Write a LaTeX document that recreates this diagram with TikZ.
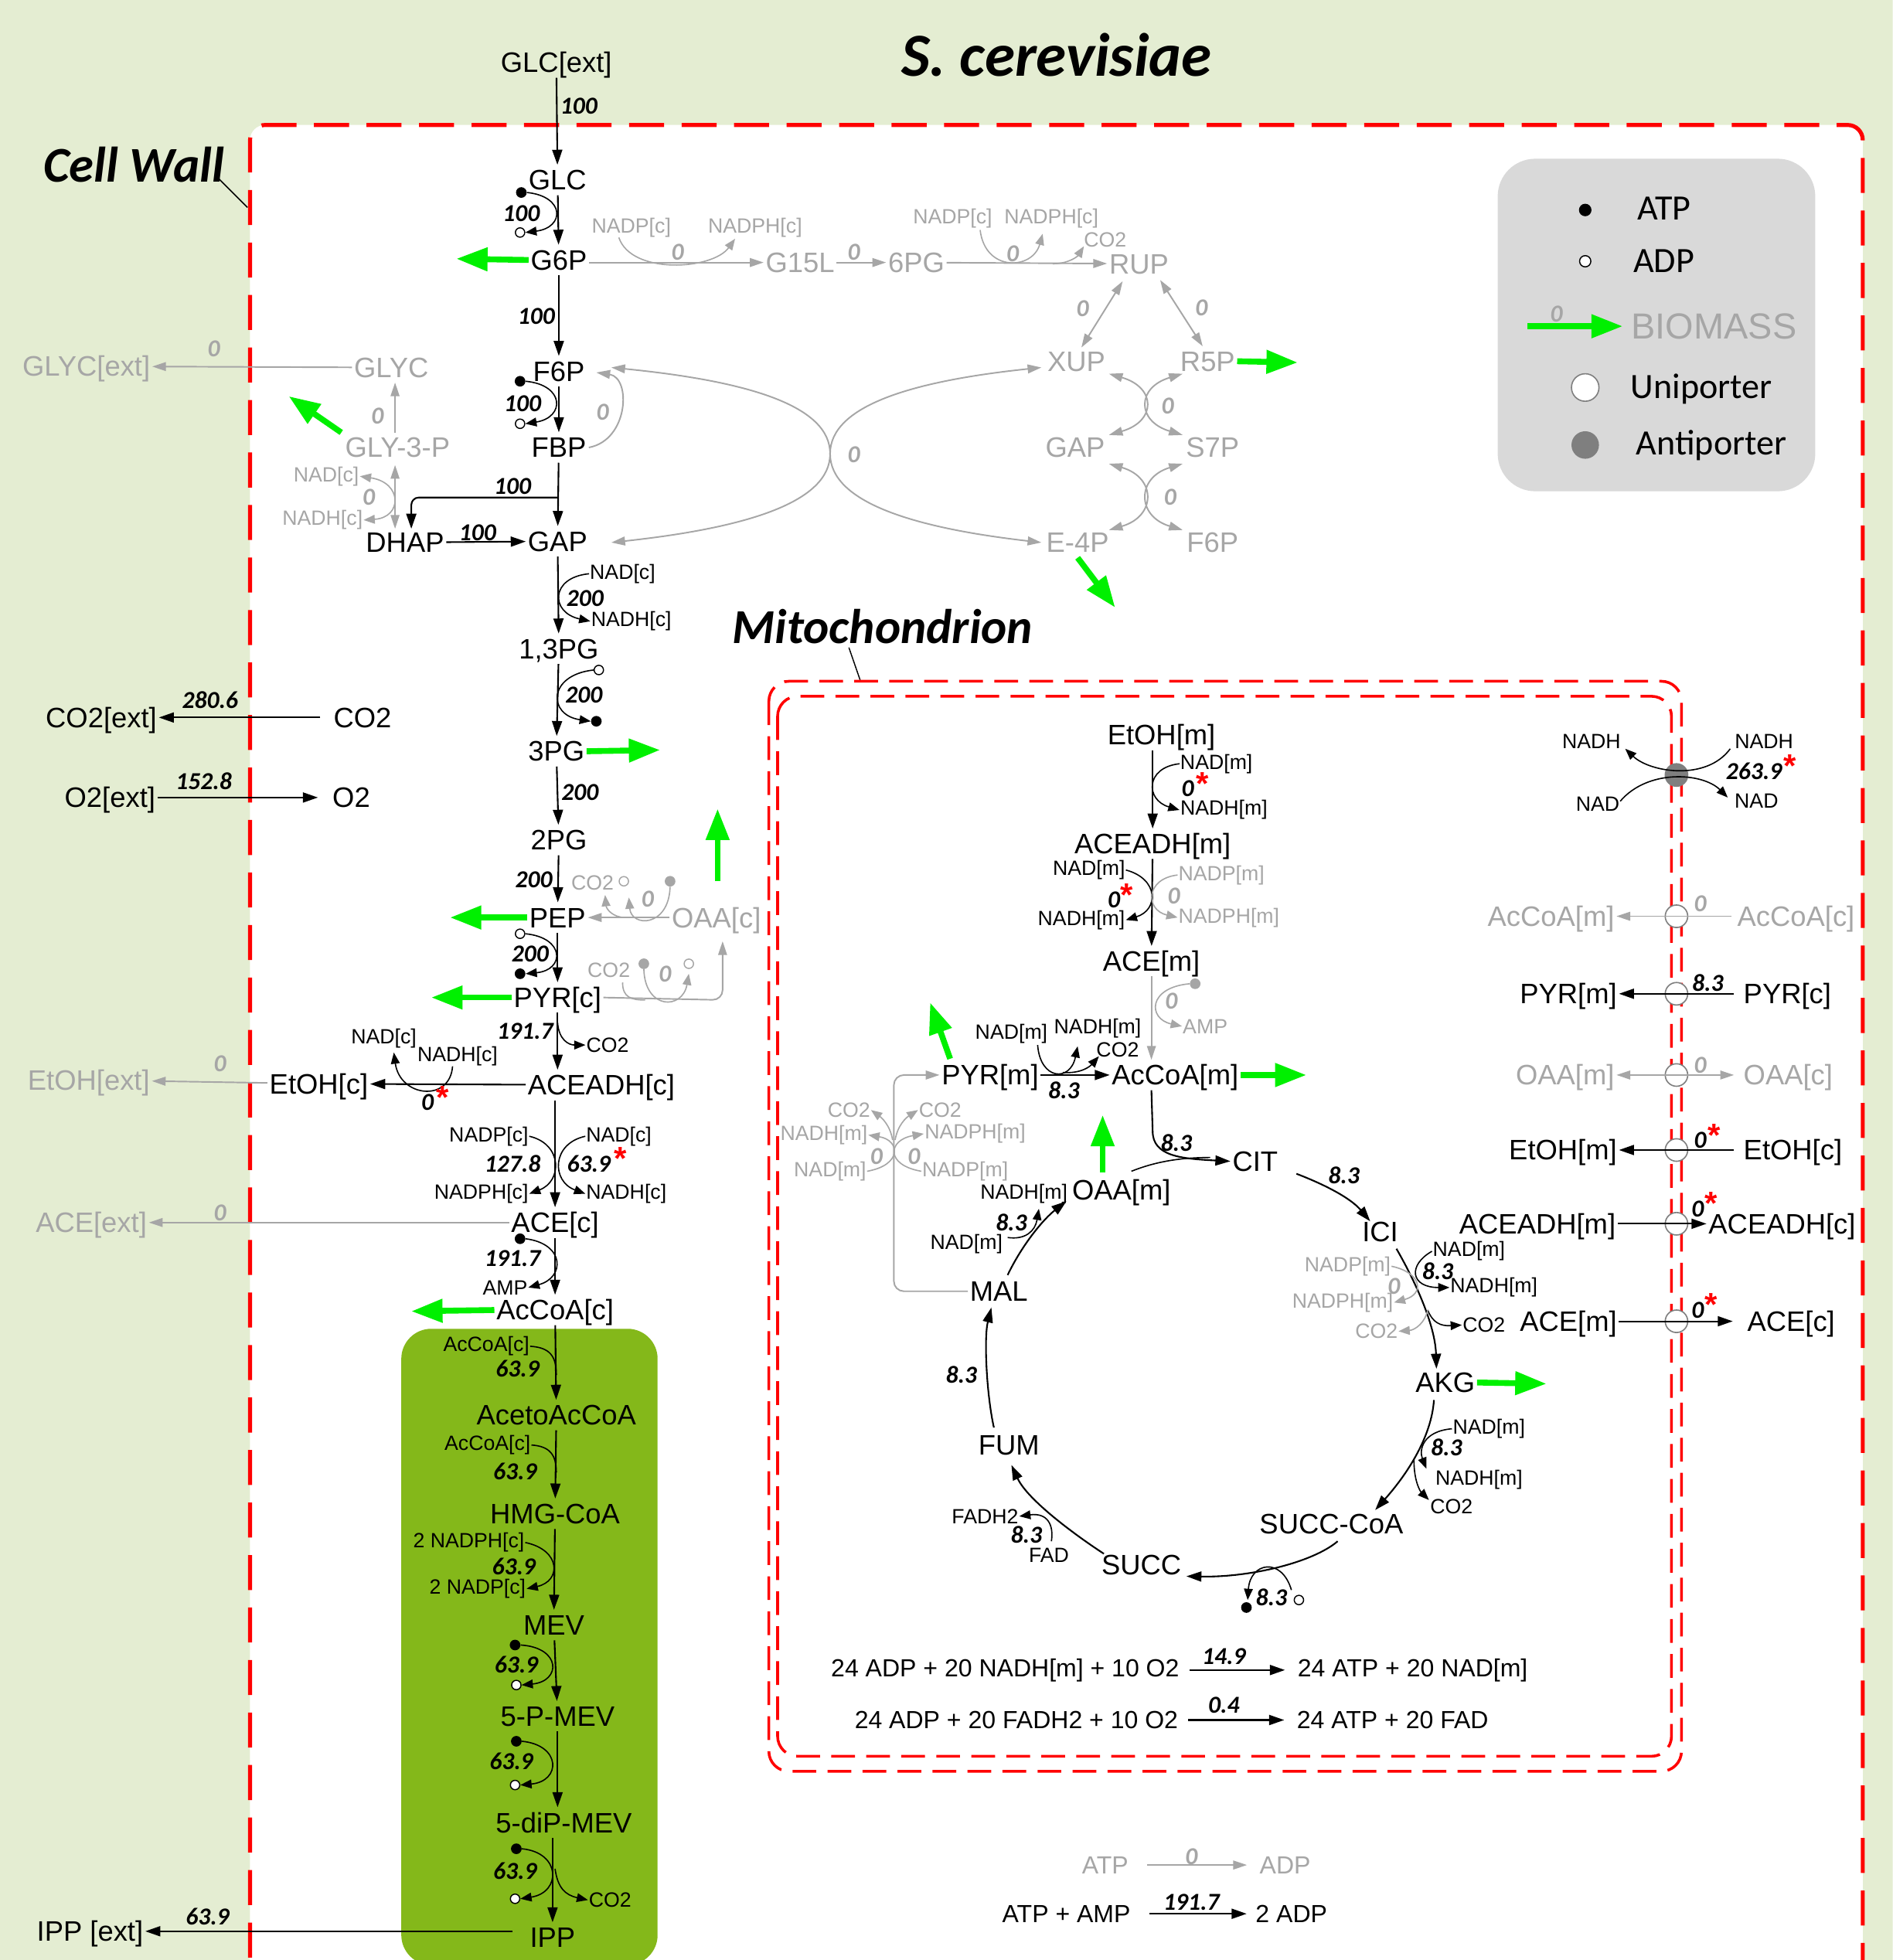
\documentclass[tikz,border=0pt]{standalone}
\usepackage{fontspec}
\setmainfont{Liberation Sans}
\newfontfamily\calfont{Carlito}
\usetikzlibrary{arrows.meta,shapes.geometric}
\definecolor{bgc}{HTML}{E4EDD2}
\definecolor{greyc}{HTML}{A6A6A6}
\definecolor{bgreen}{HTML}{00F000}
\definecolor{olivec}{HTML}{84B81A}
\definecolor{legc}{HTML}{D9D9D9}
\definecolor{antic}{HTML}{7F7F7F}
\definecolor{wallc}{HTML}{FF0000}
\tikzset{
  met/.style={font=\fontsize{22.5}{24}\selectfont, inner xsep=1.5pt, inner ysep=4pt, text height=16pt, text depth=0pt},
  gmet/.style={met, text=greyc},
  sm/.style={font=\fontsize{16.5}{18}\selectfont, inner sep=0.5pt},
  gsm/.style={sm, text=greyc},
  num/.style={font=\calfont\bfseries\itshape\fontsize{19.5}{20}\selectfont, inner sep=0pt},
  gnum/.style={num, text=greyc},
  ast/.style={text=wallc, font=\bfseries\fontsize{26}{26}\selectfont, inner sep=0pt},
  eqn/.style={font=\fontsize{19.8}{22}\selectfont, inner sep=1pt},
  geqn/.style={eqn, text=greyc},
  rx/.style={line width=1.3pt, -{Triangle[length=12pt,width=8pt]}},
  grx/.style={line width=1.2pt, greyc, -{Triangle[length=11pt,width=7pt]}},
  gbx/.style={line width=1.2pt, greyc, {Triangle[length=11pt,width=7pt]}-{Triangle[length=11pt,width=7pt]}},
  cx/.style={line width=1pt, -{Triangle[length=9pt,width=7pt]}},
  cl/.style={line width=1pt},
  gcx/.style={line width=1pt, greyc, -{Triangle[length=9pt,width=7pt]}},
  gcl/.style={line width=1pt, greyc},
  gcbx/.style={line width=1pt, greyc, {Triangle[length=9pt,width=7pt]}-{Triangle[length=9pt,width=7pt]}},
  bio/.style={line width=4.7pt, bgreen, -{Triangle[length=25pt,width=18pt]}},
  atp/.style={circle, fill=black, inner sep=0pt, minimum size=8.5pt},
  adp/.style={circle, draw=black, fill=white, line width=0.9pt, inner sep=0pt, minimum size=7.5pt},
  gatp/.style={atp, fill=greyc},
  gadp/.style={adp, draw=greyc},
  uni/.style={circle, draw=antic, fill=white, line width=1pt, minimum size=18pt, inner sep=0pt},
  anti/.style={circle, fill=antic, inner sep=0pt, minimum size=19pt},
  wall/.style={wallc, line width=3.2pt, dash pattern=on 28pt off 14pt},
  mitob/.style={wallc, line width=2.2pt, dash pattern=on 19pt off 9pt, rounded corners=16pt},
  ttl/.style={font=\calfont\bfseries\itshape\fontsize{#1}{#1}\selectfont, inner sep=0pt},
  legt/.style={font=\calfont\fontsize{28.5}{30}\selectfont, inner sep=0pt},
}
\begin{document}
\begin{tikzpicture}[x=1pt,y=-1pt]
\useasboundingbox (0,0) rectangle (1514,1568);
\clip (0,0) rectangle (1514,1568);
\fill[bgc] (0,0) rectangle (1514,1568);
\fill[white, rounded corners=12pt] (200,100) rectangle (1490,1650);
\draw[wall, rounded corners=12pt] (200,1650) -- (200,100) -- (1490,100) -- (1490,1650);
\fill[olivec, rounded corners=24pt] (321,1063) rectangle (526,1572);

% titles
\node[ttl=49] (title) at (845,44) {S. cerevisiae};
\node[ttl=40] (cellwall) at (107,132) {Cell Wall};
\draw[line width=0.9pt] (175,143) -- (198,166);
\node[ttl=39] (mitolab) at (706,501) {Mitochondrion};
\draw[line width=0.9pt] (679,518) -- (688,544);

% legend
\node[fill=legc, rounded corners=30pt, minimum width=254pt, minimum height=266pt, inner sep=0pt] (legend) at (1325,260) {};
\node[atp, minimum size=10pt] (lgatp) at (1268,168) {};
\node[legt] (lgatpt) at (1331,167) {ATP};
\node[adp, minimum size=9pt] (lgadp) at (1268,209) {};
\node[legt] (lgadpt) at (1331,209) {ADP};
\coordinate (lgb1) at (1222,261);
\coordinate (lgb2) at (1298,261);
\draw[bio] (lgb1) -- (lgb2);
\node[gnum] (lgz) at (1245,251) {0};
\node[font=\fontsize{29}{30}\selectfont, text=greyc, inner sep=0pt] (lgbio) at (1371,261) {BIOMASS};
\node[uni, minimum size=22pt] (lguni) at (1268,310) {};
\node[legt] (lgunit) at (1361,311) {Uniporter};
\node[anti, minimum size=22pt] (lganti) at (1268,356) {};
\node[legt] (lgantit) at (1369,356) {Antiporter};

% mitochondrion borders
\draw[mitob] (615,545) rectangle (1345,1417);
\draw[mitob] (622,557) rectangle (1337,1405);

% ===== glycolysis column =====
\node[met] (GLCext) at (445,50) {GLC[ext]};
\node[met] (GLC) at (446,144) {GLC};
\node[met] (G6P) at (447,208) {G6P};
\node[met] (F6P) at (447,297) {F6P};
\node[met] (FBP) at (447,358) {FBP};
\node[met] (GAP) at (446,433) {GAP};
\node[met] (DHAP) at (324,434) {DHAP};
\node[met] (PG13) at (447,519) {1,3PG};
\node[met] (PG3) at (445,601) {3PG};
\node[met] (PG2) at (447,672) {2PG};
\node[met] (PEP) at (446,734) {PEP};
\node[met] (PYRc) at (446,798) {PYR[c]};
\node[met] (ACEADHc) at (481,868) {ACEADH[c]};
\node[met] (EtOHc) at (255,867) {EtOH[c]};
\node[met] (ACEc) at (444,978) {ACE[c]};
\node[met] (AcCoAc) at (444,1048) {AcCoA[c]};
\node[met] (AcetoAcCoA) at (445,1132) {AcetoAcCoA};
\node[met] (HMGCoA) at (444,1211) {HMG-CoA};
\node[met] (MEV) at (443,1300) {MEV};
\node[met] (PMEV) at (446,1373) {5-P-MEV};
\node[met] (diPMEV) at (451,1458) {5-diP-MEV};
\node[met] (IPP) at (442,1550) {IPP};
\node[met] (IPPext) at (72,1545) {IPP [ext]};
\node[met] (CO2in) at (290,574) {CO2};
\node[met] (CO2ext) at (81,574) {CO2[ext]};
\node[met] (O2ext) at (88,638) {O2[ext]};
\node[met] (O2in) at (281,638) {O2};
\node[gmet] (GLYC) at (313,294) {GLYC};
\node[gmet] (GLYCext) at (69,293) {GLYC[ext]};
\node[gmet] (GLY3P) at (318,358) {GLY-3-P};
\node[gmet] (EtOHext) at (71,864) {EtOH[ext]};
\node[gmet] (ACEext) at (73,978) {ACE[ext]};
\node[gmet] (OAAc) at (573,734) {OAA[c]};

% PPP
\node[gmet] (G15L) at (640,210) {G15L};
\node[gmet] (PG6) at (733,210) {6PG};
\node[gmet] (RUP) at (911,211) {RUP};
\node[gmet] (XUP) at (861,289) {XUP};
\node[gmet] (R5P) at (966,289) {R5P};
\node[gmet] (GAPp) at (860,358) {GAP};
\node[gmet] (S7P) at (970,358) {S7P};
\node[gmet] (E4P) at (862,434) {E-4P};
\node[gmet] (F6Pp) at (970,434) {F6P};

% main arrows glycolysis
\draw[rx] (GLCext) -- (GLC);
\node[num] (n1) at (463,85) {100};
\draw[rx] (GLC) -- (G6P);
\node[atp] (d1) at (417,154) {};
\node[adp] (o1) at (416,186) {};
\node[num] (n2) at (417,171) {100};
\draw[cx] (d1.east) .. controls (452,157) and (452,182) .. (o1.east);
\draw[rx] (G6P) -- (F6P);
\node[num] (n3) at (429,253) {100};
\draw[rx] (F6P) -- (FBP);
\node[atp] (d2) at (416,305) {};
\node[adp] (o2) at (416,339) {};
\node[num] (n4) at (418,323) {100};
\draw[cx] (d2.east) .. controls (452,308) and (452,334) .. (o2.east);
\draw[rx] (FBP) -- (GAP);
\draw[rx, rounded corners=6pt] (446,398) -- (329,398) -- (329,423);
\node[num] (n5) at (410,389) {100};
\draw[rx] (DHAP) -- (GAP);
\node[num] (n6) at (382,426) {100};

% GAP -> 1,3PG
\draw[rx] (GAP) -- (PG13);
\node[sm] (nad1) at (498,459) {NAD[c]};
\node[sm] (nadh1) at (505,497) {NADH[c]};
\draw[cx] (nad1.west) .. controls (440,462) and (440,490) .. (nadh1.west);
\node[num] (n7) at (468,479) {200};
% 1,3PG -> 3PG
\draw[rx] (PG13) -- (PG3);
\node[adp] (o3) at (479,536) {};
\node[atp] (d3) at (477,577) {};
\draw[cx] (o3.west) .. controls (438,540) and (438,572) .. (d3.west);
\node[num] (n8) at (467,556) {200};
\draw[bio] (PG3.east) -- (528,600);
% 3PG -> 2PG
\draw[rx] (PG3) -- (PG2);
\node[num] (n9) at (464,634) {200};
\draw[rx] (PG2) -- (PEP);
\node[num] (n10) at (427,704) {200};
\draw[bio] (PEP.west) -- (360,734);
% OAA -> PEP
\draw[grx] (OAAc) -- (PEP);
\node[gsm] (co2a) at (474,706) {CO2};
\node[gadp] (o5) at (499,705) {};
\node[gatp] (d5) at (536,705) {};
\node[gnum] (n11) at (518,719) {0};
\draw[gcx] (d5.south) .. controls (535,742) and (505,742) .. (503,718);
\draw[gcx] (500,734) .. controls (490,734) and (485,727) .. (484,716);
\coordinate (oaaup) at (574,705);
\draw[bio] (oaaup) -- (574,647);
% PEP -> PYR
\draw[rx] (PEP) -- (PYRc);
\node[adp] (o4) at (416,747) {};
\node[atp] (d4) at (416,779) {};
\draw[cx] (o4.east) .. controls (452,750) and (452,776) .. (d4.east);
\node[num] (n12) at (424,763) {200};
\draw[bio] (PYRc.west) -- (345,798);
% PYR -> OAA
\draw[grx, rounded corners=8pt] (PYRc.east) -- (578,800) -- (578,753);
\node[gsm] (co2b) at (487,776) {CO2};
\node[gatp] (d6) at (515,771) {};
\node[gadp] (o6) at (551,771) {};
\node[gnum] (n13) at (532,779) {0};
\draw[gcl] (498,786) .. controls (498,798) and (505,800) .. (516,800);
\draw[gcx] (d6.south) .. controls (516,808) and (546,808) .. (551,779);
% PYR -> ACEADH
\draw[rx] (PYRc.south) -- (PYRc.south |- ACEADHc.north);
\node[num] (n14) at (420,825) {191.7};
\node[sm] (co2c) at (486,836) {CO2};
\draw[cx] (446,818) .. controls (447,832) and (455,836) .. (co2c.west);
% ACEADH -> EtOH
\draw[rx] (ACEADHc) -- (EtOHc);
\node[sm] (nad2) at (307,831) {NAD[c]};
\node[sm] (nadh2) at (366,845) {NADH[c]};
\draw[cx] (362,853) .. controls (360,882) and (320,878) .. (315,842);
\node[num] (n15) at (342,882) {0};
\node[ast] (a1) at (354,878) {*};
\draw[grx] (EtOHc) -- (EtOHext);
\node[gnum] (n16) at (176,851) {0};
% ACEADH -> ACE
\draw[rx] (ACEADHc.south -| ACEc) -- (ACEc.north);
\node[sm] (nadp3) at (391,909) {NADP[c]};
\node[sm] (nadph3) at (385,955) {NADPH[c]};
\draw[cx] (nadp3.east) .. controls (450,915) and (450,945) .. (nadph3.east);
\node[num] (n17) at (410,931) {127.8};
\node[sm] (nad4) at (495,909) {NAD[c]};
\node[sm] (nadh4) at (501,955) {NADH[c]};
\draw[cx] (nad4.west) .. controls (441,915) and (441,945) .. (nadh4.west);
\node[num] (n18) at (471,931) {63.9};
\node[ast] (a2) at (496,927) {*};
\draw[grx] (ACEc) -- (ACEext);
\node[gnum] (n19) at (176,970) {0};
% ACE -> AcCoA
\draw[rx] (ACEc) -- (AcCoAc);
\node[atp] (d7) at (416,991) {};
\node[sm] (amp1) at (404,1030) {AMP};
\draw[cx] (d7.east) .. controls (452,995) and (452,1022) .. (amp1.east);
\node[num] (n20) at (410,1007) {191.7};
\draw[bio] (AcCoAc.west) -- (329,1049);

% mevalonate pathway
\draw[rx] (AcCoAc) -- (AcetoAcCoA);
\node[sm] (acc1) at (389,1077) {AcCoA[c]};
\draw[cl] (acc1.east) .. controls (440,1078) and (445,1085) .. (445,1100);
\node[num] (n21) at (414,1095) {63.9};
\draw[rx] (AcetoAcCoA) -- (HMGCoA);
\node[sm] (acc2) at (390,1156) {AcCoA[c]};
\draw[cl] (acc2.east) .. controls (440,1157) and (445,1164) .. (445,1178);
\node[num] (n22) at (412,1177) {63.9};
\draw[rx] (HMGCoA) -- (MEV);
\node[sm] (nph) at (375,1234) {2 NADPH[c]};
\node[sm] (np) at (382,1271) {2 NADP[c]};
\draw[cx] (nph.east) .. controls (449,1240) and (449,1265) .. (np.east);
\node[num] (n23) at (411,1253) {63.9};
\draw[rx] (MEV) -- (PMEV);
\node[atp] (d8) at (412,1316) {};
\node[adp] (o8) at (413,1348) {};
\draw[cx] (d8.east) .. controls (449,1318) and (449,1345) .. (o8.east);
\node[num] (n24) at (413,1332) {63.9};
\draw[rx] (PMEV) -- (diPMEV.north -| PMEV);
\node[atp] (d9) at (413,1393) {};
\node[adp] (o9) at (412,1428) {};
\draw[cx] (d9.east) .. controls (449,1396) and (449,1425) .. (o9.east);
\node[num] (n25) at (409,1409) {63.9};
\draw[rx] (diPMEV.south -| IPP) -- (IPP);
\node[atp] (d10) at (413,1479) {};
\node[adp] (o10) at (412,1519) {};
\draw[cx] (d10.east) .. controls (449,1482) and (449,1514) .. (o10.east);
\node[sm] (co2e) at (488,1520) {CO2};
\draw[cx] (444,1495) .. controls (446,1510) and (452,1516) .. (co2e.west);
\node[num] (n26) at (412,1497) {63.9};
\draw[rx, shorten <=12pt] (IPP.west |- IPPext) -- (IPPext);
\node[num] (n27) at (166,1533) {63.9};

% exchange
\draw[rx, shorten <=9pt] (CO2in) -- (CO2ext);
\node[num] (n28) at (168,560) {280.6};
\draw[rx, shorten >=10pt] (O2ext) -- (O2in);
\node[num] (n29) at (163,625) {152.8};

% glycerol
\draw[grx] (GLYC) -- (GLYCext);
\node[gnum] (n30) at (171,279) {0};
\draw[grx] (316,346) -- (316,306);
\node[gnum] (n31) at (302,333) {0};
\draw[gbx] (316,372) -- (316,423);
\node[gsm] (nad5) at (261,381) {NAD[c]};
\node[gsm] (nadh5) at (258,416) {NADH[c]};
\draw[gcbx] (nad5.east) .. controls (322,386) and (322,414) .. (nadh5.east);
\node[gnum] (n32) at (295,398) {0};
\draw[bio] (273,346) -- (231,317);

% PPP arrows
\draw[grx] (G6P.east |- G15L) -- (G15L);
\node[gsm] (nadp1) at (505,182) {NADP[c]};
\node[gsm] (nadph1) at (604,182) {NADPH[c]};
\draw[gcx] (495,190) .. controls (505,220) and (570,216) .. (588,191);
\node[gnum] (n33) at (542,202) {0};
\draw[grx] (G15L) -- (PG6);
\node[gnum] (n34) at (683,202) {0};
\draw[grx] (PG6) -- (RUP);
\node[gsm] (nadp2) at (762,175) {NADP[c]};
\node[gsm] (nadph2) at (841,175) {NADPH[c]};
\node[gsm] (co2d) at (884,192) {CO2};
\draw[gcx] (784,184) .. controls (788,218) and (826,216) .. (834,187);
\draw[gcx] (842,211) .. controls (855,211) and (862,205) .. (867,197);
\node[gnum] (n35) at (810,203) {0};
\draw[gbx] (898,225) -- (865,278);
\node[gnum] (n36) at (866,247) {0};
\draw[gbx] (928,224) -- (962,277);
\node[gnum] (n37) at (961,246) {0};
\draw[bio] (R5P.east) -- (1038,290);
\draw[gbx] (887,299) .. controls (925,310) and (925,337) .. (887,348);
\draw[gbx] (946,299) .. controls (909,310) and (909,337) .. (946,348);
\node[gnum] (n38) at (934,325) {0};
\draw[gbx] (887,371) .. controls (925,382) and (925,413) .. (887,424);
\draw[gbx] (946,371) .. controls (909,382) and (909,413) .. (946,424);
\node[gnum] (n39) at (936,398) {0};
\draw[bio] (E4P.south) -- (892,486);
\draw[gbx] (489,294) .. controls (600,305) and (664,325) .. (664,363) .. controls (664,401) and (600,422) .. (489,434);
\draw[gbx] (833,294) .. controls (728,305) and (664,325) .. (664,363) .. controls (664,401) and (728,422) .. (833,434);
\node[gnum] (n40) at (683,364) {0};
\draw[grx] (471,358) .. controls (503,352) and (505,302) .. (477,298);
\node[gnum] (n41) at (482,330) {0};
\draw[bio] (G6P.west) -- (365,207);

% ===== mitochondrion =====
\node[met] (EtOHm) at (929,588) {EtOH[m]};
\node[met] (ACEADHm) at (922,675) {ACEADH[m]};
\node[met] (ACEm) at (921,769) {ACE[m]};
\node[met] (PYRm) at (792,860) {PYR[m]};
\node[met] (AcCoAm) at (940,860) {AcCoA[m]};
\node[met] (CIT) at (1004,929) {CIT};
\node[met] (OAAm) at (897,952) {OAA[m]};
\node[met] (ICI) at (1104,985) {ICI};
\node[met] (AKG) at (1156,1106) {AKG};
\node[met] (SUCCCoA) at (1065,1219) {SUCC-CoA};
\node[met] (SUCC) at (913,1252) {SUCC};
\node[met] (FUM) at (807,1156) {FUM};
\node[met] (MAL) at (799,1033) {MAL};

\draw[rx] (EtOHm.south -| ACEADHm) -- (ACEADHm);
\node[sm] (nad6) at (973,611) {NAD[m]};
\node[sm] (nadh6) at (979,648) {NADH[m]};
\draw[cx] (nad6.west) .. controls (916,614) and (916,640) .. (nadh6.west);
\node[num] (n42) at (950,631) {0};
\node[ast] (a3) at (962,627) {*};
\draw[rx] (ACEADHm) -- (ACEm);
\node[sm] (nad7) at (871,696) {NAD[m]};
\node[sm] (nadh7) at (865,736) {NADH[m]};
\draw[cx] (nad7.east) .. controls (927,703) and (927,728) .. (nadh7.east);
\node[num] (n43) at (891,720) {0};
\node[ast] (a4) at (901,716) {*};
\node[gsm] (nadp7) at (977,700) {NADP[m]};
\node[gsm] (nadph7) at (983,734) {NADPH[m]};
\draw[gcx] (nadp7.west) .. controls (916,703) and (916,728) .. (nadph7.west);
\node[gnum] (n44) at (939,717) {0};
\draw[grx] (ACEm) -- (ACEm |- AcCoAm.north);
\node[gatp] (d11) at (956,787) {};
\node[gsm] (amp2) at (964,821) {AMP};
\draw[gcx] (d11.west) .. controls (918,790) and (918,815) .. (amp2.west);
\node[gnum] (n45) at (937,801) {0};

\draw[rx] (PYRm) -- (AcCoAm);
\node[num] (n46) at (851,872) {8.3};
\node[sm] (nad8) at (809,827) {NAD[m]};
\node[sm] (nadh8) at (878,823) {NADH[m]};
\node[sm] (co2f) at (894,840) {CO2};
\draw[cx] (830,836) .. controls (832,864) and (856,866) .. (862,837);
\draw[cx] (850,858) .. controls (865,859) and (872,853) .. (879,845);
\draw[bio] (760,847) -- (744,802);
\draw[bio] (AcCoAm.east) -- (1045,860);

\draw[rx] (AcCoAm.south -| ACEm) -- (922,905) .. controls (922,925) and (945,927) .. (CIT.west);
\node[num] (n47) at (941,914) {8.3};
\draw[cl] (905,937) .. controls (925,929) and (945,926) .. (968,926);
\draw[bio] (882,938) -- (882,892);

% TCA
\draw[rx] (1037,939) .. controls (1058,947) and (1080,958) .. (1096,977);
\node[num] (n48) at (1075,940) {8.3};
\draw[rx] (1117,999) .. controls (1132,1025) and (1148,1060) .. (1149,1095);
\node[sm] (nad9) at (1175,1001) {NAD[m]};
\node[sm] (nadh9) at (1195,1030) {NADH[m]};
\node[sm] (co2g) at (1187,1060) {CO2};
\draw[cx] (nad9.west) .. controls (1126,1012) and (1128,1030) .. (nadh9.west);
\draw[cx] (1142,1048) .. controls (1146,1058) and (1152,1061) .. (co2g.west);
\node[num] (n49) at (1150,1017) {8.3};
\node[gsm] (nadp9) at (1078,1013) {NADP[m]};
\node[gsm] (nadph9) at (1074,1042) {NADPH[m]};
\node[gsm] (co2h) at (1101,1065) {CO2};
\draw[gcx] (nadp9.east) .. controls (1137,1018) and (1140,1035) .. (nadph9.east);
\draw[gcx] (1142,1048) .. controls (1140,1058) and (1132,1064) .. (co2h.east);
\node[gnum] (n50) at (1115,1029) {0};
\draw[bio] (AKG.east) -- (1237,1107);
\draw[rx] (1147,1120) .. controls (1145,1150) and (1125,1180) .. (1100,1208);
\node[sm] (nad10) at (1191,1143) {NAD[m]};
\node[sm] (nadh10) at (1183,1184) {NADH[m]};
\node[sm] (co2i) at (1161,1205) {CO2};
\draw[cx] (nad10.west) .. controls (1138,1145) and (1135,1160) .. (1141,1175);
\draw[cx] (1131,1168) .. controls (1131,1185) and (1136,1193) .. (1143,1200);
\node[num] (n51) at (1157,1158) {8.3};
\draw[rx] (1070,1233) .. controls (1050,1250) and (1000,1262) .. (949,1261);
\node[atp] (d12) at (997,1286) {};
\node[adp] (o12) at (1039,1280) {};
\draw[cx] (1033,1272) .. controls (1025,1245) and (1000,1250) .. (998,1280);
\node[num] (n52) at (1017,1278) {8.3};
\draw[rx] (883,1243) .. controls (860,1228) and (822,1200) .. (809,1172);
\node[sm] (fadh) at (788,1213) {FADH2};
\node[sm] (fad) at (839,1244) {FAD};
\draw[cx] (841,1233) .. controls (843,1220) and (838,1210) .. (fadh.east);
\node[num] (n53) at (821,1228) {8.3};
\draw[rx] (795,1142) .. controls (789,1115) and (787,1070) .. (793,1046);
\node[num] (n54) at (769,1100) {8.3};
\draw[rx] (806,1020) .. controls (818,995) and (835,975) .. (853,961);
\node[sm] (nad11) at (773,995) {NAD[m]};
\node[sm] (nadh11) at (819,955) {NADH[m]};
\draw[cx] (806,990) .. controls (820,992) and (828,985) .. (831,967);
\node[num] (n55) at (809,978) {8.3};

% MAL -> PYR (grey)
\draw[grx, rounded corners=8pt] (MAL.west) -- (715,1033) -- (715,860) -- (PYRm.west);
\node[gsm] (co2j) at (679,888) {CO2};
\node[gsm] (nadh12) at (659,908) {NADH[m]};
\node[gsm] (nad12) at (664,937) {NAD[m]};
\node[gsm] (co2k) at (752,888) {CO2};
\node[gsm] (nadph12) at (780,907) {NADPH[m]};
\node[gsm] (nadp12) at (772,937) {NADP[m]};
\draw[gcx] (nad12.east) .. controls (722,932) and (720,912) .. (nadh12.east);
\draw[gcx] (714,912) .. controls (712,900) and (705,894) .. (co2j.east);
\draw[gcx] (nadp12.west) .. controls (708,932) and (710,912) .. (nadph12.west);
\draw[gcx] (716,912) .. controls (718,900) and (725,894) .. (co2k.west);
\node[gnum] (n56) at (701,925) {0};
\node[gnum] (n57) at (731,925) {0};

% equations
\node[eqn] (e1l) at (804,1336) {24 ADP + 20 NADH[m] + 10 O2};
\node[eqn] (e1r) at (1130,1336) {24 ATP + 20 NAD[m]};
\draw[rx, shorten <=7pt, shorten >=9pt] (e1l.east) -- (e1r.west);
\node[num] (n58) at (979,1325) {14.9};
\node[eqn] (e2l) at (813,1376) {24 ADP + 20 FADH2 + 10 O2};
\node[eqn] (e2r) at (1114,1376) {24 ATP + 20 FAD};
\draw[rx, shorten <=7pt, shorten >=9pt] (e2l.east) -- (e2r.west);
\node[num] (n59) at (979,1364) {0.4};
\node[geqn] (e3l) at (884,1492) {ATP};
\node[geqn] (e3r) at (1028,1492) {ADP};
\draw[grx, shorten <=14pt, shorten >=9pt] (e3l.east) -- (e3r.west);
\node[gnum] (n60) at (953,1485) {0};
\node[eqn] (e4l) at (853,1531) {ATP + AMP};
\node[eqn] (e4r) at (1033,1531) {2 ADP};
\draw[rx, shorten <=14pt, shorten >=6pt] (e4l.east) -- (e4r.west);
\node[num] (n61) at (953,1522) {191.7};

% ===== transporters =====
\node[anti] (antip) at (1341,620) {};
\node[sm] (tnadhl) at (1273,593) {NADH};
\node[sm] (tnadl) at (1278,643) {NAD};
\node[sm] (tnadhr) at (1411,593) {NADH};
\node[sm] (tnadr) at (1405,641) {NAD};
\draw[cx] (1384,599) .. controls (1365,625) and (1320,618) .. (1300,599);
\draw[cx] (1296,641) .. controls (1318,615) and (1362,618) .. (1382,638);
\node[num] (n62) at (1403,617) {263.9};
\node[ast] (a5) at (1432,613) {*};

\node[uni] (u1) at (1341,733) {};
\node[uni] (u2) at (1341,795) {};
\node[uni] (u3) at (1341,860) {};
\node[uni] (u4) at (1341,920) {};
\node[uni] (u5) at (1341,979) {};
\node[uni] (u6) at (1341,1057) {};

\node[gmet, anchor=east] (tAcCoAm) at (1293,733) {AcCoA[m]};
\node[gmet, anchor=west] (tAcCoAc) at (1388,733) {AcCoA[c]};
\draw[grx, shorten <=3pt] (tAcCoAc) -- (tAcCoAm);
\node[gnum] (n63) at (1360,723) {0};
\node[met, anchor=east] (tPYRm) at (1295,795) {PYR[m]};
\node[met, anchor=west] (tPYRc) at (1393,795) {PYR[c]};
\draw[rx, shorten <=6pt] (tPYRc) -- (tPYRm);
\node[num] (n64) at (1366,786) {8.3};
\node[gmet, anchor=east] (tOAAm) at (1293,860) {OAA[m]};
\node[gmet, anchor=west] (tOAAc) at (1393,860) {OAA[c]};
\draw[gbx, shorten >=6pt] (tOAAm) -- (tOAAc);
\node[gnum] (n65) at (1360,852) {0};
\node[met, anchor=east] (tEtOHm) at (1295,920) {EtOH[m]};
\node[met, anchor=west] (tEtOHc) at (1393,920) {EtOH[c]};
\draw[rx, shorten <=6pt] (tEtOHc) -- (tEtOHm);
\node[num] (n66) at (1360,912) {0};
\node[ast] (a6) at (1371,908) {*};
\node[met, anchor=east] (tACEADHm) at (1294,979) {ACEADH[m]};
\node[met, anchor=west] (tACEADHc) at (1365,979) {ACEADH[c]};
\draw[rx] (tACEADHm) -- (tACEADHc);
\node[num] (n67) at (1358,967) {0};
\node[ast] (a7) at (1369,963) {*};
\node[met, anchor=east] (tACEm) at (1295,1057) {ACE[m]};
\node[met, anchor=west] (tACEc) at (1396,1057) {ACE[c]};
\draw[rx, shorten >=10pt] (tACEm) -- (tACEc);
\node[num] (n68) at (1358,1048) {0};
\node[ast] (a8) at (1369,1044) {*};
\end{tikzpicture}
\end{document}
